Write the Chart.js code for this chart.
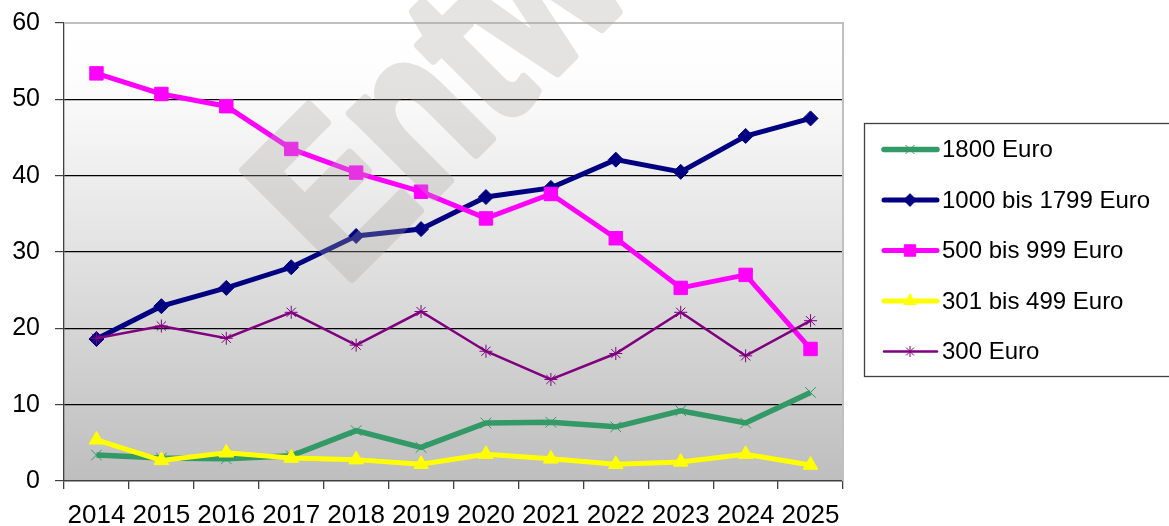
<!DOCTYPE html>
<html>
<head>
<meta charset="utf-8">
<script src="https://cdn.jsdelivr.net/npm/chart.js@4/dist/chart.umd.min.js"></script>
<style>
  html, body { margin: 0; padding: 0; background: #fff; }
  #wrap { width: 1169px; height: 526px; }
</style>
</head>
<body>
<div id="wrap"><canvas id="chart" width="1169" height="526"></canvas></div>
<script>
// Data
const years = ['2014', '2015', '2016', '2017', '2018', '2019', '2020', '2021', '2022', '2023', '2024', '2025'];
const euro1800 = [3.4, 3.0, 2.9, 3.3, 6.6, 4.4, 7.6, 7.7, 7.1, 9.2, 7.6, 11.6];
const euro1000to1799 = [18.6, 22.9, 25.3, 28.0, 32.1, 33.0, 37.2, 38.4, 42.1, 40.5, 45.2, 47.5];
const euro500to999 = [53.4, 50.7, 49.1, 43.5, 40.4, 37.9, 34.4, 37.6, 31.8, 25.3, 27.0, 17.3];
const euro301to499 = [5.4, 2.7, 3.7, 3.0, 2.8, 2.2, 3.5, 2.9, 2.2, 2.5, 3.5, 2.1];
const euro300 = [18.7, 20.3, 18.7, 22.1, 17.8, 22.2, 17.0, 13.3, 16.7, 22.1, 16.4, 21.0];
const seriesNames = ['1800 Euro', '1000 bis 1799 Euro', '500 bis 999 Euro', '301 bis 499 Euro', '300 Euro'];
const yTicks = [0, 10, 20, 30, 40, 50, 60];

const FONT = "'Liberation Sans', Arial, sans-serif";

function series(label, data, color, width, style, radius, order) {
    return {
        label: label,
        data: data,
        borderColor: color,
        backgroundColor: color,
        borderWidth: width,
        pointStyle: style,
        pointRadius: radius,
        pointHoverRadius: radius,
        pointBorderColor: color,
        pointBackgroundColor: color,
        pointBorderWidth: 1,
        tension: 0,
        order: order
    };
}

// plot area background (gradient white -> gray) and borders
const plotBackground = {
    id: 'plotBackground',
    beforeDraw(chart) {
        const { ctx, chartArea: a } = chart;
        const g = ctx.createLinearGradient(0, a.top, 0, a.bottom);
        g.addColorStop(0, '#ffffff');
        g.addColorStop(0.12, '#fdfdfd');
        g.addColorStop(1, '#bebebe');
        ctx.save();
        ctx.fillStyle = g;
        ctx.fillRect(a.left, a.top, a.right - a.left, a.bottom - a.top);
        ctx.restore();
    },
    afterDatasetsDraw(chart) {
        const { ctx, chartArea: a } = chart;
        ctx.save();
        ctx.strokeStyle = '#c0c0c0';
        ctx.lineWidth = 2;
        ctx.beginPath();
        ctx.moveTo(a.left, a.top);
        ctx.lineTo(a.right, a.top);
        ctx.lineTo(a.right, a.bottom);
        ctx.stroke();
        ctx.restore();
    }
};

// faint "Entwurf" stamp across the plot, drawn opaque off-screen then blended
const watermark = {
    id: 'watermark',
    afterDraw(chart) {
        const ctx = chart.ctx;
        const off = document.createElement('canvas');
        off.width = chart.width;
        off.height = chart.height;
        const o = off.getContext('2d');
        o.translate(343, 287);
        o.rotate(-Math.PI / 4);
        o.scale(0.78, 1);
        o.font = 'bold 222px ' + FONT;
        o.textBaseline = 'alphabetic';
        o.fillStyle = 'rgb(170, 166, 160)';
        o.strokeStyle = 'rgb(170, 166, 160)';
        o.lineJoin = 'round';
        o.lineWidth = 9;
        o.fillText('Entwurf', 0, 0);
        o.strokeText('Entwurf', 0, 0);
        ctx.save();
        ctx.globalAlpha = 0.3;
        ctx.drawImage(off, 0, 0);
        ctx.restore();
    }
};

// legend box on the right, line + marker samples
const sideLegend = {
    id: 'sideLegend',
    afterDraw(chart) {
        const ctx = chart.ctx;
        ctx.save();
        ctx.fillStyle = '#ffffff';
        ctx.fillRect(864.5, 123.5, 310, 253);
        ctx.strokeStyle = '#404040';
        ctx.lineWidth = 1.3;
        ctx.strokeRect(864.5, 123.5, 310, 253);
        const rows = [149.5, 200, 250.5, 301, 351.5];
        chart.data.datasets.forEach(function(ds, i) {
            const y = rows[i];
            ctx.strokeStyle = ds.borderColor;
            ctx.lineWidth = ds.borderWidth;
            ctx.lineCap = 'round';
            ctx.beginPath();
            ctx.moveTo(884, y);
            ctx.lineTo(937, y);
            ctx.stroke();
            ctx.lineCap = 'butt';
            ctx.fillStyle = ds.pointBackgroundColor;
            ctx.strokeStyle = ds.pointBorderColor;
            ctx.lineWidth = ds.pointBorderWidth;
            Chart.helpers.drawPoint(ctx, {
                pointStyle: ds.pointStyle,
                radius: ds.pointRadius * 0.85,
                borderWidth: ds.pointBorderWidth,
                rotation: 0
            }, 910, y);
            ctx.fillStyle = '#000';
            ctx.font = '24px ' + FONT;
            ctx.textBaseline = 'middle';
            ctx.textAlign = 'left';
            ctx.fillText(ds.label, 942, y + 1);
        });
        ctx.restore();
    }
};

new Chart(document.getElementById('chart'), {
    type: 'line',
    data: {
        labels: years,
        datasets: [
            series(seriesNames[0], euro1800, '#339966', 5.5, 'crossRot', 7.5, 5),
            series(seriesNames[1], euro1000to1799, '#000080', 5, 'rectRot', 7.5, 4),
            series(seriesNames[2], euro500to999, '#ff00ff', 5, 'rect', 9.5, 3),
            series(seriesNames[3], euro301to499, '#ffff00', 5, 'triangle', 8.5, 2),
            series(seriesNames[4], euro300, '#800080', 2.5, 'star', 6.5, 1)
        ]
    },
    options: {
        responsive: false,
        animation: false,
        layout: { padding: { top: 23, right: 326, bottom: 0, left: 0 } },
        plugins: {
            legend: { display: false },
            tooltip: { enabled: false }
        },
        scales: {
            x: {
                offset: true,
                afterFit: function(scale) {
                    scale.height = 45;
                    scale.paddingLeft = 0;
                    scale.paddingRight = 0;
                },
                grid: {
                    offset: true,
                    drawOnChartArea: false,
                    drawTicks: true,
                    tickLength: 8,
                    color: '#404040',
                    lineWidth: 1.3
                },
                border: { color: '#404040', width: 1.3 },
                ticks: {
                    color: '#000',
                    font: { family: FONT, size: 26 },
                    padding: 11,
                    maxRotation: 0,
                    autoSkip: false
                }
            },
            y: {
                min: 0,
                max: 60,
                afterFit: function(scale) {
                    scale.width = 64;
                    scale.paddingTop = 0;
                    scale.paddingBottom = 0;
                },
                afterBuildTicks: function(scale) {
                    scale.ticks = yTicks.map(function(v) { return { value: v }; });
                },
                grid: {
                    color: function(c) { return c.tick && c.tick.value === 60 ? '#c0c0c0' : '#000000'; },
                    tickColor: '#404040',
                    tickLength: 9,
                    lineWidth: 1.2
                },
                border: { color: '#404040', width: 1.3 },
                ticks: {
                    color: '#000',
                    font: { family: FONT, size: 25 },
                    padding: 15
                }
            }
        }
    },
    plugins: [plotBackground, watermark, sideLegend]
});
</script>
</body>
</html>
